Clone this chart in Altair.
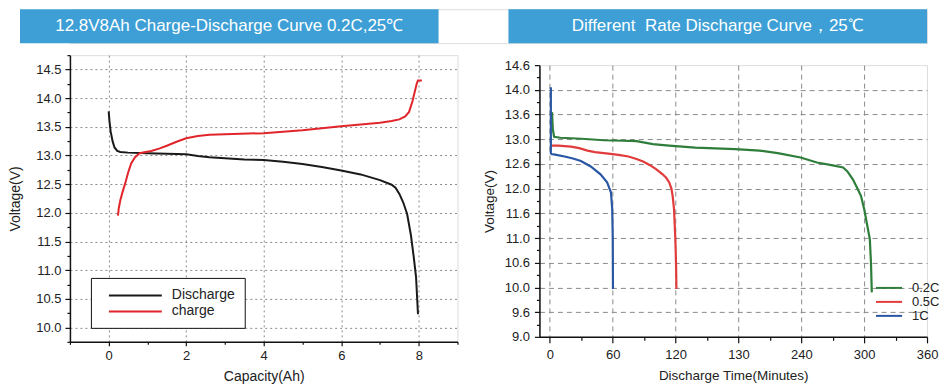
import altair as alt
import pandas as pd

FONT = "Liberation Sans"

# ---------------- data ----------------
BANNER_PANELS = ["left", "right"]
BANNER_TITLES = ["12.8V8Ah Charge-Discharge Curve 0.2C,25\u2103",
                 "Different\u00a0 Rate Discharge Curve\uff0c25\u2103"]

# Left chart: capacity (Ah) vs voltage (V)
DIS_X = [0.0, 0.02, 0.05, 0.1, 0.15, 0.22, 0.3, 0.5, 1.0, 1.5, 2.0, 2.3, 2.6, 3.0, 3.5,
         4.0, 4.5, 5.0, 5.5, 6.0, 6.5, 7.0, 7.3, 7.4, 7.5, 7.6, 7.7, 7.8, 7.87, 7.93, 7.98]
DIS_Y = [13.77, 13.6, 13.42, 13.25, 13.14, 13.08, 13.06, 13.05, 13.04, 13.03, 13.02, 12.99,
         12.97, 12.95, 12.93, 12.92, 12.89, 12.85, 12.8, 12.74, 12.67, 12.57, 12.49, 12.44,
         12.33, 12.18, 11.98, 11.6, 11.23, 10.88, 10.23]
CHG_X = [0.24, 0.26, 0.3, 0.36, 0.42, 0.5, 0.58, 0.68, 0.8, 0.95, 1.1, 1.3, 1.5, 1.75, 2.0,
         2.3, 2.6, 3.0, 4.0, 5.0, 6.0, 6.5, 7.0, 7.3, 7.5, 7.65, 7.75, 7.84, 7.9, 7.95, 7.98, 8.08]
CHG_Y = [11.95, 12.08, 12.22, 12.37, 12.5, 12.7, 12.86, 12.97, 13.04, 13.06, 13.08, 13.12,
         13.17, 13.24, 13.3, 13.34, 13.36, 13.37, 13.39, 13.44, 13.51, 13.54, 13.57, 13.6,
         13.63, 13.68, 13.76, 13.95, 14.12, 14.26, 14.31, 14.31]
L_SERIES = ["Discharge", "charge"]
L_COLORS = ["#1a1a1a", "#e0252b"]

L_X_TICKS = [-1, 0, 1, 2, 3, 4, 5, 6, 7, 8, 9]
L_X_MAJOR = [0, 2, 4, 6, 8]
L_X_LABELS = ["0", "2", "4", "6", "8"]
L_Y_TICKS = [9.75, 10.0, 10.25, 10.5, 10.75, 11.0, 11.25, 11.5, 11.75, 12.0, 12.25, 12.5,
             12.75, 13.0, 13.25, 13.5, 13.75, 14.0, 14.25, 14.5, 14.75]
L_Y_MAJOR = [10.0, 10.5, 11.0, 11.5, 12.0, 12.5, 13.0, 13.5, 14.0, 14.5]
L_Y_LABELS = ["10.0", "10.5", "11.0", "11.5", "12.0", "12.5", "13.0", "13.5", "14.0", "14.5"]

# Right chart: discharge time (min) vs voltage (axis position units)
C02_X = [2.0, 2.8, 4.0, 10, 30, 51.5, 70, 82.7, 98.3, 113.8, 138.8, 176.9, 200, 217.5, 239.3,
         254.9, 270, 279.9, 284, 289.2, 293, 297, 300.1, 303, 305.4, 306.5, 307.3]
C02_Y = [13.55, 13.2, 13.05, 13.03, 13.01, 12.98, 12.97, 12.96, 12.9, 12.87, 12.83, 12.8,
         12.77, 12.72, 12.63, 12.53, 12.47, 12.43, 12.35, 12.19, 12.03, 11.85, 11.58, 11.25,
         10.98, 10.5, 9.9]
C05_X = [1.2, 8, 20.2, 28, 35.9, 43, 51.5, 60, 67, 75, 82.7, 89, 95.1, 101, 107.6, 111,
         113.8, 116, 117.2, 118.5, 119.7, 120.4, 120.8]
C05_Y = [12.87, 12.87, 12.85, 12.82, 12.77, 12.74, 12.72, 12.7, 12.68, 12.65, 12.6, 12.55,
         12.48, 12.4, 12.29, 12.22, 12.13, 12.0, 11.85, 11.58, 11.0, 10.5, 9.97]
C1_X = [0.9, 0.9, 1.5, 5, 14, 22, 29.6, 39, 48.3, 54.6, 58.3, 59.5, 60.0, 60.2]
C1_Y = [14.05, 12.72, 12.7, 12.69, 12.65, 12.61, 12.56, 12.45, 12.29, 12.13, 11.92, 11.58,
        11.0, 9.97]
R_SERIES = ["0.2C", "0.5C", "1C"]
R_COLORS = ["#2e7d3a", "#e23b3b", "#2a57a3"]

R_X_TICKS = [0, 30, 60, 90, 120, 150, 180, 210, 240, 270, 300, 330, 360]
R_X_MAJOR = [0, 60, 120, 180, 240, 300, 360]
R_X_LABELS = ["0", "60", "120", "130", "240", "300", "360"]
R_X_GRID = [0, 60, 120, 180, 240, 300]
R_Y_TICKS = [9.0, 9.25, 9.5, 9.75, 10.0, 10.25, 10.5, 10.75, 11.0, 11.25, 11.5, 11.75, 12.0,
             12.25, 12.5, 12.75, 13.0, 13.25, 13.5, 13.75, 14.0, 14.25, 14.5]
R_Y_MAJOR = [9.0, 9.5, 10.0, 10.5, 11.0, 11.5, 12.0, 12.5, 13.0, 13.5, 14.0, 14.5]
R_Y_LABELS = ["9.0", "9.6", "10.0", "10.6", "11.0", "11.6", "12.0", "12.6", "13.0", "13.6",
              "14.0", "14.6"]
R_Y_GRID = [9.5, 10.0, 10.5, 11.0, 11.5, 12.0, 12.5, 13.0, 13.5, 14.0]


def label_expr(values, labels):
    expr = "''"
    for v, l in reversed(list(zip(values, labels))):
        expr = f"datum.value == {v} ? '{l}' : ({expr})"
    return expr


def in_list(values):
    return "indexof([" + ",".join(str(v) for v in values) + "], datum.value) >= 0"


def cond(values, yes, no):
    return {"condition": {"test": in_list(values), "value": yes}, "value": no}


AX = dict(labelFont=FONT, titleFont=FONT, labelColor="#222", titleColor="#222",
          domainColor="#111", domainWidth=1.5, tickColor="#111", tickWidth=1.2,
          titleFontWeight="normal")

# ---------------- banner ----------------
banner_df = pd.DataFrame({"panel": BANNER_PANELS, "title": BANNER_TITLES})
bx = alt.X("panel:N", sort=BANNER_PANELS, axis=None,
           scale=alt.Scale(range=[-50, 858], paddingInner=0.1431, paddingOuter=0))
banner = alt.layer(
    alt.Chart(banner_df).mark_rect(color="#3d9fd6").encode(x=bx),
    alt.Chart(banner_df).mark_text(color="white", font=FONT, fontSize=17).encode(
        x=bx, text="title:N"),
).properties(width=858, height=34)

# ---------------- left chart ----------------
n_d, n_c = len(DIS_X), len(CHG_X)
left_df = pd.DataFrame({
    "x": DIS_X + CHG_X,
    "y": DIS_Y + CHG_Y,
    "series": [L_SERIES[0]] * n_d + [L_SERIES[1]] * n_c,
    "ord": list(range(n_d)) + list(range(n_c)),
})
left = alt.Chart(left_df).mark_line(strokeWidth=2).encode(
    x=alt.X("x:Q", scale=alt.Scale(domain=[-1, 9], nice=False, zero=False),
            axis=alt.Axis(values=L_X_TICKS, labelExpr=label_expr(L_X_MAJOR, L_X_LABELS),
                          title="Capacity(Ah)", titleFontSize=14, labelFontSize=13,
                          grid=True, gridDash=[2, 3], gridColor="#8a8a8a", gridWidth=1,
                          gridOpacity=cond(L_X_MAJOR, 1, 0),
                          tickSize=cond(L_X_MAJOR, 4, 2.5), labelPadding=4,
                          titlePadding=7, labelFlush=False, **AX)),
    y=alt.Y("y:Q", scale=alt.Scale(domain=[9.75, 14.75], nice=False, zero=False),
            axis=alt.Axis(values=L_Y_TICKS, labelExpr=label_expr(L_Y_MAJOR, L_Y_LABELS),
                          title="Voltage(V)", titleFontSize=14, labelFontSize=13,
                          grid=True, gridDash=[2, 3], gridColor="#8a8a8a", gridWidth=1,
                          gridOpacity=cond(L_Y_MAJOR, 1, 0),
                          tickSize=cond(L_Y_MAJOR, 5, 3), labelPadding=4,
                          titlePadding=13, labelFlush=False, **AX)),
    color=alt.Color("series:N", sort=L_SERIES,
                    scale=alt.Scale(domain=L_SERIES, range=L_COLORS),
                    legend=alt.Legend(title=None, orient="none", legendX=21, legendY=223,
                                      symbolType="M-3.53,0H3.53", symbolSize=225,
                                      symbolStrokeWidth=2, symbolOffset=27,
                                      labelFont=FONT, labelFontSize=14,
                                      labelColor="#222", labelOffset=28, padding=9,
                                      rowPadding=-3, strokeColor="#111", fillColor="white")),
    order="ord:Q",
).properties(width=388, height=287)

# ---------------- right chart ----------------
right_df = pd.DataFrame({
    "x": C02_X + C05_X + C1_X,
    "y": C02_Y + C05_Y + C1_Y,
    "series": [R_SERIES[0]] * len(C02_X) + [R_SERIES[1]] * len(C05_X) + [R_SERIES[2]] * len(C1_X),
    "ord": list(range(len(C02_X))) + list(range(len(C05_X))) + list(range(len(C1_X))),
})
right = alt.Chart(right_df).mark_line(strokeWidth=2.2).encode(
    x=alt.X("x:Q", scale=alt.Scale(domain=[-10, 360], nice=False, zero=False),
            axis=alt.Axis(values=R_X_TICKS, labelExpr=label_expr(R_X_MAJOR, R_X_LABELS),
                          title="Discharge Time(Minutes)", titleFontSize=13.5, labelFontSize=13,
                          grid=True, gridDash=[5, 4], gridColor="#8a8a8a", gridWidth=1,
                          gridOpacity=cond(R_X_GRID, 1, 0),
                          tickSize=cond(R_X_MAJOR, 6, 3.5), labelPadding=6,
                          titlePadding=7, labelFlush=False, **AX)),
    y=alt.Y("y:Q", scale=alt.Scale(domain=[9.0, 14.5], nice=False, zero=False),
            axis=alt.Axis(values=R_Y_TICKS, labelExpr=label_expr(R_Y_MAJOR, R_Y_LABELS),
                          title="Voltage(V)", titleFontSize=13.5, labelFontSize=13,
                          grid=True, gridDash=[5, 4], gridColor="#8a8a8a", gridWidth=1,
                          gridOpacity=cond(R_Y_GRID, 1, 0),
                          tickSize=cond(R_Y_MAJOR, 5, 3), labelPadding=5,
                          titlePadding=8, labelFlush=False, **AX)),
    color=alt.Color("series:N", sort=R_SERIES,
                    scale=alt.Scale(domain=R_SERIES, range=R_COLORS),
                    legend=alt.Legend(title=None, orient="none", legendX=337, legendY=226,
                                      symbolType="M-2.17,0H2.17", symbolSize=144,
                                      symbolStrokeWidth=2, symbolOffset=6,
                                      labelFont=FONT, labelFontSize=13,
                                      labelColor="#222", labelOffset=16, padding=0,
                                      rowPadding=0)),
    order="ord:Q",
).properties(width=388, height=272)

# invisible spacer that pushes the right plot a few pixels lower than the left one
spacer = alt.Chart(pd.DataFrame({"s": [""]})).mark_text(opacity=0).encode(
    text="s:N").properties(width=1, height=1)
right_col = alt.vconcat(spacer, right, spacing=-3)

row = alt.hconcat(left, right_col, spacing=22).resolve_scale(
    color="independent").resolve_legend(color="independent")
chart = alt.vconcat(banner, row, spacing=5).properties(
    padding=0).configure_view(stroke=None).configure(font=FONT)

chart.save("out.html", embed_options={"renderer": "svg", "actions": False})
